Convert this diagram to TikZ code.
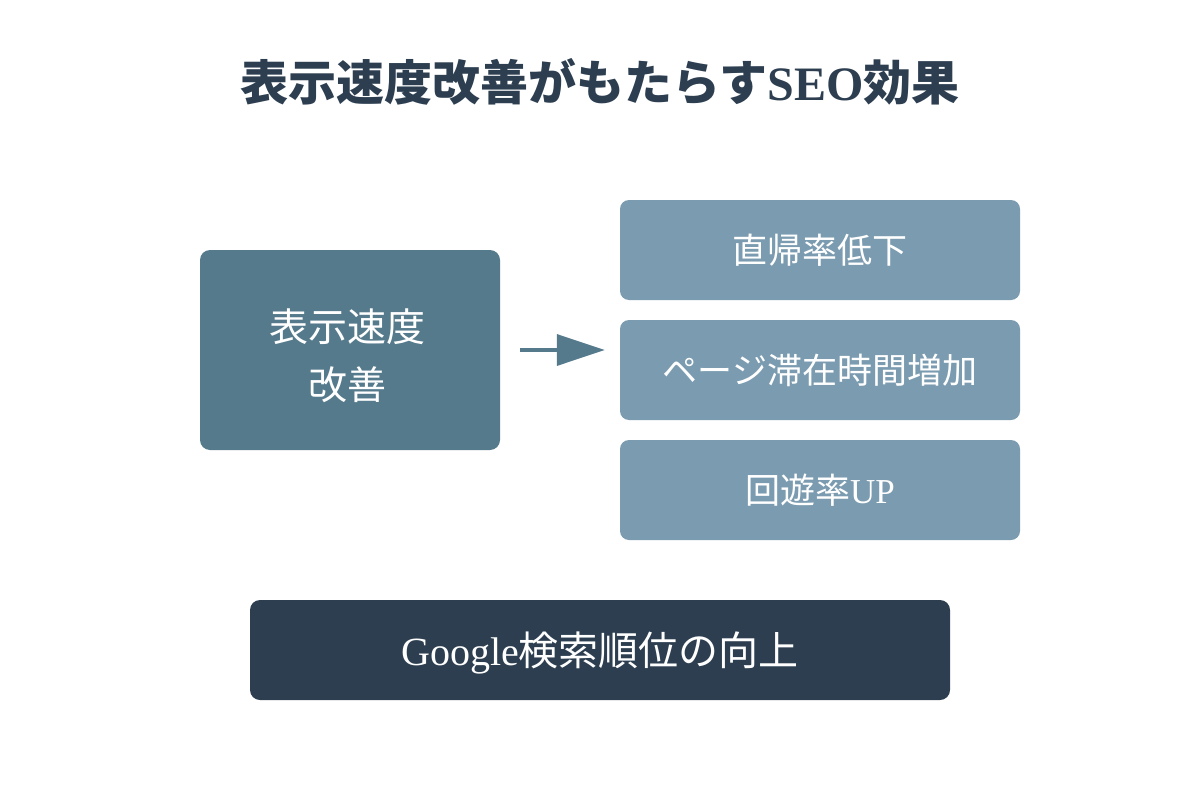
\documentclass[tikz,border=0pt]{standalone}
\usepackage{fontspec}
\setmainfont{Liberation Serif}
\newfontfamily\cjk{Noto Sans CJK JP}
\usetikzlibrary{arrows.meta}
\definecolor{navy}{HTML}{2C3E50}
\definecolor{slate}{HTML}{557A8C}
\definecolor{lightslate}{HTML}{7A9BB0}
\tikzset{
  mainbox/.style={fill=slate, rounded corners=10pt, minimum width=300pt, minimum height=200pt, inner sep=0pt},
  boxtext/.style={text=white, align=center, inner sep=0pt},
  effectbox/.style={fill=lightslate, rounded corners=9pt, minimum width=400pt, minimum height=100pt, text=white, inner sep=0pt, font=\fontsize{35}{42}\selectfont},
  resultbox/.style={fill=navy, rounded corners=10pt, minimum width=700pt, minimum height=100pt, inner sep=0pt},
  flow/.style={draw=slate, line width=3.5pt, -{Triangle[length=48pt,width=31pt]}}
}
\begin{document}
\begin{tikzpicture}[x=1pt,y=-1pt]
\useasboundingbox (0,0) rectangle (1200,800);
\node[text=navy, font=\fontsize{48}{56}\selectfont\bfseries] (title) at (600,82) {{\cjk 表示速度改善がもたらす}SEO{\cjk 効果}};
\node[mainbox] (left) at (350,350) {};
\node[boxtext, font=\fontsize{39}{58}\selectfont] (lefttext) at (347,356) {{\cjk 表示速度}\\{\cjk 改善}};
\node[effectbox] (e1) at (820,250) {\cjk 直帰率低下};
\node[effectbox] (e2) at (820,370) {\cjk ページ滞在時間増加};
\node[effectbox] (e3) at (820,490) {{\cjk 回遊率}UP};
\node[resultbox] (res) at (600,650) {};
\node[boxtext, font=\fontsize{40}{48}\selectfont] (restext) at (600,653) {Google{\cjk 検索順位の向上}};
\draw[flow, shorten <=20pt, shorten >=15pt] (left.east) -- (left.east -| e2.west);
\end{tikzpicture}
\end{document}
